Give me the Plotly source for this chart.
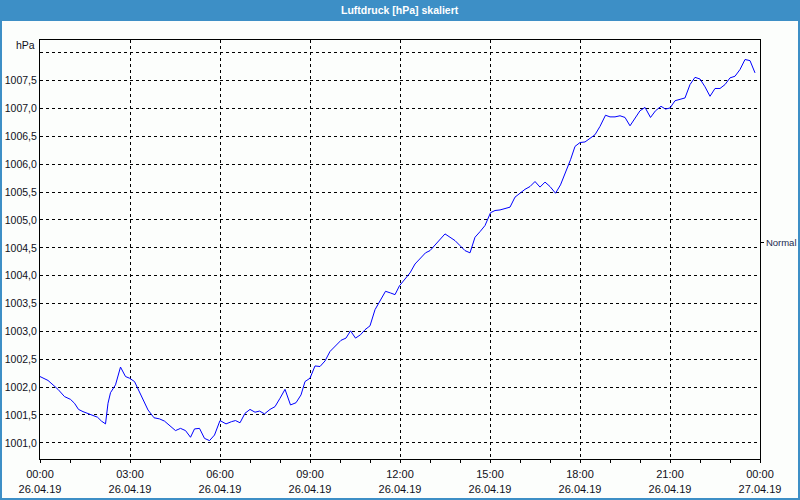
import pandas as pd
import plotly.graph_objects as go

# ---- data ----
start_date = "2019-04-26 00:00"
minutes = [0, 16, 26, 36, 49, 61, 69, 77, 86, 96, 106, 115, 123, 131, 136, 141, 151, 161, 171, 179,
           189, 203, 216, 228, 239, 249, 259, 271, 281, 291, 301, 309, 319, 329, 339, 349, 360, 372, 383, 391,
           400, 410, 420, 430, 439, 449, 460, 470, 480, 490, 501, 512, 522, 530, 540, 550, 560, 570, 580, 591,
           602, 612, 621, 631, 641, 650, 660, 670, 681, 691, 701, 710, 719, 730, 740, 750, 760, 771, 780, 790,
           800, 810, 820, 830, 840, 850, 860, 870, 880, 890, 901, 910, 920, 930, 940, 950, 960, 970, 980, 990,
           1000, 1010, 1020, 1031, 1041, 1051, 1061, 1070, 1080, 1090, 1100, 1110, 1120, 1131, 1140, 1150, 1160, 1170, 1180, 1190,
           1200, 1210, 1221, 1231, 1242, 1251, 1260, 1270, 1280, 1290, 1300, 1310, 1320, 1330, 1340, 1350, 1360, 1370, 1380, 1390,
           1400, 1410, 1420, 1430]
pressure = [1002.19, 1002.12, 1002.04, 1001.96, 1001.83, 1001.78, 1001.71, 1001.60, 1001.56, 1001.53,
            1001.50, 1001.46, 1001.39, 1001.34, 1001.71, 1001.90, 1002.04, 1002.36, 1002.19, 1002.16,
            1002.10, 1001.83, 1001.59, 1001.45, 1001.43, 1001.39, 1001.32, 1001.22, 1001.26, 1001.22,
            1001.10, 1001.25, 1001.26, 1001.08, 1001.04, 1001.14, 1001.40, 1001.34, 1001.38, 1001.40,
            1001.36, 1001.53, 1001.60, 1001.55, 1001.57, 1001.52, 1001.60, 1001.65, 1001.80, 1001.96,
            1001.68, 1001.72, 1001.86, 1002.10, 1002.16, 1002.38, 1002.37, 1002.47, 1002.64, 1002.74,
            1002.84, 1002.88, 1003.01, 1002.88, 1002.94, 1003.03, 1003.10, 1003.39, 1003.57, 1003.72,
            1003.69, 1003.66, 1003.82, 1003.93, 1004.05, 1004.21, 1004.30, 1004.41, 1004.45, 1004.55,
            1004.64, 1004.75, 1004.69, 1004.63, 1004.54, 1004.45, 1004.41, 1004.69, 1004.79, 1004.90,
            1005.13, 1005.17, 1005.18, 1005.20, 1005.23, 1005.41, 1005.48, 1005.55, 1005.60, 1005.69,
            1005.59, 1005.68, 1005.60, 1005.48, 1005.63, 1005.84, 1006.08, 1006.32, 1006.39, 1006.40,
            1006.47, 1006.53, 1006.68, 1006.88, 1006.85, 1006.85, 1006.87, 1006.84, 1006.69, 1006.82,
            1006.96, 1007.02, 1006.84, 1006.96, 1007.04, 1006.99, 1007.01, 1007.14, 1007.16, 1007.19,
            1007.43, 1007.56, 1007.53, 1007.39, 1007.22, 1007.36, 1007.36, 1007.43, 1007.55, 1007.58,
            1007.70, 1007.88, 1007.86, 1007.64]

x_tick_times = ["2019-04-26 00:00", "2019-04-26 03:00", "2019-04-26 06:00", "2019-04-26 09:00",
                "2019-04-26 12:00", "2019-04-26 15:00", "2019-04-26 18:00", "2019-04-26 21:00",
                "2019-04-27 00:00"]
x_tick_text = ["00:00<br>26.04.19", "03:00<br>26.04.19", "06:00<br>26.04.19", "09:00<br>26.04.19",
               "12:00<br>26.04.19", "15:00<br>26.04.19", "18:00<br>26.04.19", "21:00<br>26.04.19",
               "00:00<br>27.04.19"]
y_tick_vals = [1001.0, 1001.5, 1002.0, 1002.5, 1003.0, 1003.5, 1004.0, 1004.5, 1005.0, 1005.5,
               1006.0, 1006.5, 1007.0, 1007.5, 1008.0]
y_tick_text = ["1001,0", "1001,5", "1002,0", "1002,5", "1003,0", "1003,5", "1004,0", "1004,5",
               "1005,0", "1005,5", "1006,0", "1006,5", "1007,0", "1007,5", ""]
normal_value = [1004.59]
normal_text = ["Normal"]
title_text = "Luftdruck [hPa] skaliert"
unit_text = "hPa"

times = pd.Timestamp(start_date) + pd.to_timedelta(minutes, unit="m")

W, H = 800, 500
ML, MR, MT, MB = 40, 40, 40, 41
PW, PH = W - ML - MR, H - MT - MB


def px_x(px):
    return (px - ML) / PW


def px_y(py):
    return (H - MB - py) / PH


font_family = "Liberation Sans, Arial, sans-serif"
text_col = "#10101a"
bar_col = "#3d8fc6"

fig = go.Figure()
fig.add_trace(go.Scatter(x=times, y=pressure, mode="lines",
                         line=dict(color="#0000ff", width=1), showlegend=False, hoverinfo="skip"))
fig.add_trace(go.Scatter(x=[times[0]], y=[pressure[0]], yaxis="y2", mode="markers",
                         marker=dict(opacity=0), showlegend=False, hoverinfo="skip"))

fig.update_layout(
    width=W, height=H,
    margin=dict(l=ML, r=MR, t=MT, b=MB, pad=0, autoexpand=False),
    paper_bgcolor="#fcfefc", plot_bgcolor="#fcfefc",
    font=dict(family=font_family, size=11, color=text_col),
    showlegend=False,
    xaxis=dict(
        range=[x_tick_times[0], x_tick_times[-1]], automargin=False,
        tickvals=x_tick_times, ticktext=x_tick_text,
        ticks="outside", ticklen=3, tickcolor="black", tickwidth=1,
        minor=dict(dtick=3600000, ticks="outside", ticklen=3, tickcolor="black", showgrid=False),
        showgrid=True, gridcolor="black", gridwidth=1, griddash="3px,3px",
        showline=True, linecolor="black", linewidth=1, mirror=True,
        zeroline=False, tickfont=dict(size=11, color=text_col),
        ticklabelstandoff=2,
    ),
    yaxis=dict(
        range=[1000.71, 1008.23], autorange=False, automargin=False,
        tickvals=y_tick_vals, ticktext=y_tick_text,
        ticks="", showgrid=True, gridcolor="black", gridwidth=1, griddash="3px,3px",
        showline=True, linecolor="black", linewidth=1, mirror=True,
        zeroline=False, tickfont=dict(size=10.5, color=text_col),
    ),
    yaxis2=dict(
        overlaying="y", side="right", range=[1000.71, 1008.23], autorange=False, automargin=False,
        tickvals=normal_value, ticktext=normal_text,
        ticks="outside", ticklen=3, tickcolor="black",
        showgrid=False, showline=False, zeroline=False,
        tickfont=dict(size=9.5, color="#1a2a50"),
    ),
)

# title bar and window border
fig.add_shape(type="rect", xref="paper", yref="paper",
              x0=px_x(0), x1=px_x(800), y0=px_y(20), y1=px_y(0),
              fillcolor=bar_col, line=dict(width=0), layer="above")
fig.add_shape(type="rect", xref="paper", yref="paper",
              x0=px_x(1), x1=px_x(799), y0=px_y(499), y1=px_y(20),
              fillcolor="rgba(0,0,0,0)", line=dict(color=bar_col, width=2), layer="above")

fig.add_annotation(text="<b>" + title_text + "</b>", xref="paper", yref="paper",
                   x=0.5, y=px_y(10), xanchor="center", yanchor="middle", showarrow=False,
                   font=dict(family=font_family, size=10.5, color="white"))
fig.add_annotation(text=unit_text, xref="paper", yref="paper",
                   x=px_x(37), y=px_y(45), xanchor="right", yanchor="middle", showarrow=False,
                   font=dict(family=font_family, size=10.5, color=text_col))

fig.write_html("out.html")
